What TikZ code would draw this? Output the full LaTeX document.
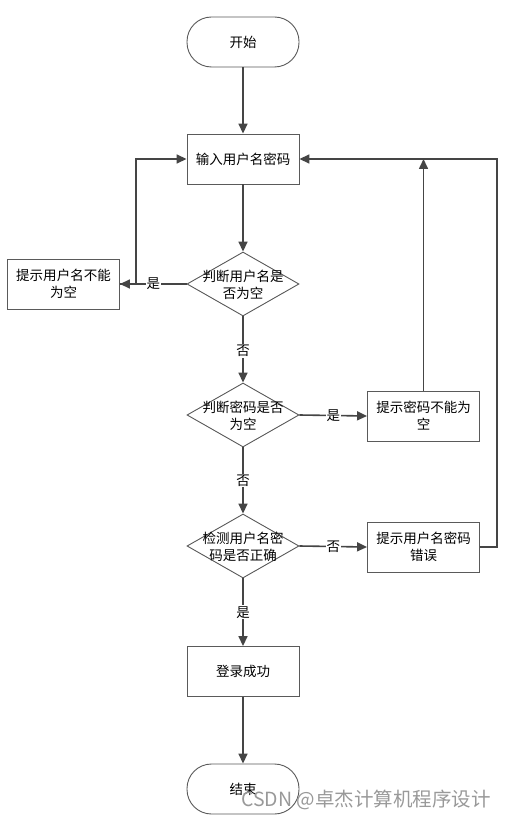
\documentclass[tikz,border=0pt]{standalone}
\usepackage{fontspec}
\setmainfont{Noto Sans CJK SC}
\newfontfamily\wmfont{Noto Sans CJK SC}
\usetikzlibrary{shapes.geometric,arrows.meta}
\definecolor{lineC}{HTML}{454545}
\definecolor{borderC}{HTML}{5A5A5A}
\begin{document}
\begin{tikzpicture}[x=1pt,y=-1pt,
  every node/.style={font=\fontsize{13.5}{17}\selectfont},
  box/.style={draw=borderC,line width=0.9pt,minimum width=112pt,minimum height=50pt,inner sep=0pt,align=center},
  term/.style={draw=borderC,line width=0.9pt,minimum width=112pt,minimum height=50pt,inner sep=0pt,rounded corners=24.5pt},
  dia/.style={draw=borderC,line width=0.9pt,shape=diamond,minimum width=112pt,minimum height=64pt,inner sep=0pt},
  txt/.style={align=center,inner sep=0pt},
  conn/.style={draw=lineC,line width=1.6pt,-{Triangle[length=10pt,width=9pt]}},
  lbl/.style={fill=white,inner sep=1pt}]
\useasboundingbox (0,0) rectangle (509,818);
\fill[white] (0,0) rectangle (509,818);
% nodes
\node[term] (start) at (243,42) {开始};
\node[box] (input) at (243,159) {输入用户名密码};
\node[dia] (d1) at (243,284) {};
\node[txt] (d1t) at (243,285) {判断用户名是\\否为空};
\node[box] (lbox) at (63.5,284) {提示用户名不能\\为空};
\node[dia] (d2) at (243,415) {};
\node[txt] (d2t) at (243,416) {判断密码是否\\为空};
\node[box] (rbox1) at (423.5,416) {提示密码不能为\\空};
\node[dia] (d3) at (243,546) {};
\node[txt] (d3t) at (243,547) {检测用户名密\\码是否正确};
\node[box] (rbox2) at (423.5,547) {提示用户名密码\\错误};
\node[box] (ok) at (243,671.5) {登录成功};
\node[term] (stop) at (243,789) {结束};
\coordinate (lturn) at (136,284);
\coordinate (rturn) at (497,547);
\coordinate (mid) at (423.5,159);
% connectors
\draw[conn] (start) -- (input);
\draw[conn] (input) -- (d1);
\draw[conn] (d1.west) -- node[lbl,pos=0.5]{是} (lbox.east);
\draw[conn] (lbox.east) -- (lturn) |- (input.west);
\draw[conn] (d1.south) -- node[lbl,pos=0.52]{否} (d2.north);
\draw[conn] (d2.east) -- node[lbl,pos=0.5]{是} (rbox1.west);
\draw[conn] (rbox1.north) -- (mid);
\draw[conn] (rbox2.east) -- (rturn) |- (input.east);
\draw[conn] (d2.south) -- node[lbl,pos=0.5]{否} (d3.north);
\draw[conn] (d3.east) -- node[lbl,pos=0.5]{否} (rbox2.west);
\draw[conn] (d3.south) -- node[lbl,pos=0.5]{是} (ok.north);
\draw[conn] (ok) -- (stop);
% watermark
\node[anchor=west,inner sep=0pt,text=black!40,font=\wmfont\fontsize{19.5}{22}\selectfont] (wm) at (241,800) {CSDN @卓杰计算机程序设计};
\end{tikzpicture}
\end{document}
